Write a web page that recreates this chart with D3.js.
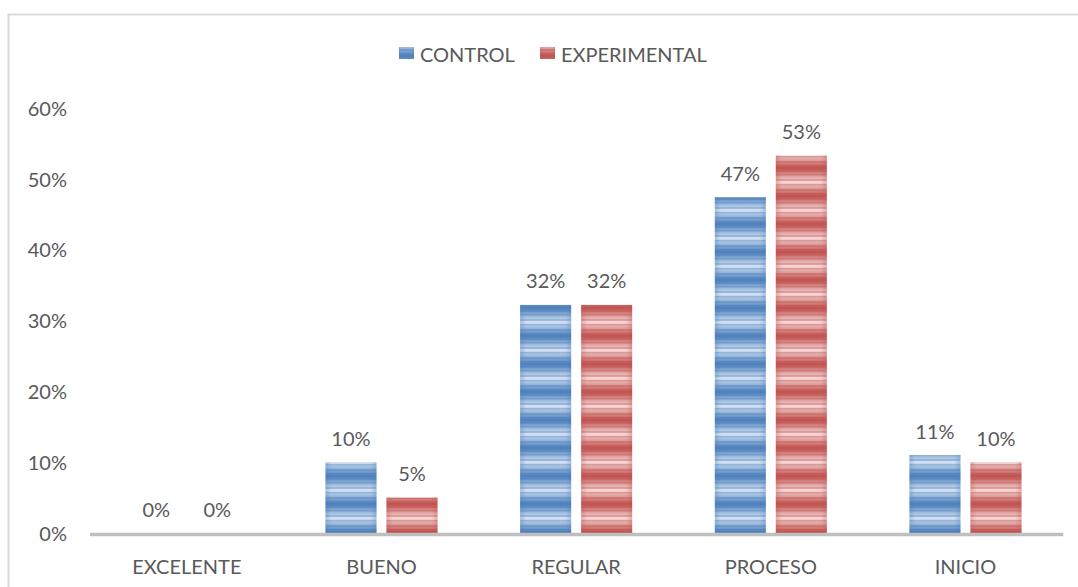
<!DOCTYPE html>
<html>
<head>
<meta charset="utf-8">
<script src="https://cdn.jsdelivr.net/npm/d3@7"></script>
<style>
  html, body { margin: 0; padding: 0; background: #fff; }
  svg { display: block; font-family: Lato, "Open Sans", sans-serif; }
</style>
</head>
<body>
<svg id="chart" width="1078" height="587"></svg>
<script>
const categories = ["EXCELENTE", "BUENO", "REGULAR", "PROCESO", "INICIO"];
const seriesNames = ["CONTROL", "EXPERIMENTAL"];
const controlValues = [0, 0.10, 0.322, 0.474, 0.11];
const experimentalValues = [0, 0.05, 0.322, 0.533, 0.10];
const valueLabels = [["0%", "10%", "32%", "47%", "11%"], ["0%", "5%", "32%", "53%", "10%"]];
const yTicks = [0, 0.1, 0.2, 0.3, 0.4, 0.5, 0.6];

const svg = d3.select("#chart");
const textColor = "#595959";

// frame
svg.append("rect").attr("x", 8.5).attr("y", 14.5).attr("width", 1100).attr("height", 600)
  .attr("fill", "none").attr("stroke", "#d9d9d9").attr("stroke-width", 2);

const defs = svg.append("defs");
const palettes = [
  { id: "blue", dark: "#4a7ebb", light: "#dce8f7" },
  { id: "red", dark: "#c0504d", light: "#f7e0df" }
];
palettes.forEach(p => {
  const g = defs.append("linearGradient").attr("id", "grad-" + p.id)
    .attr("x1", 0).attr("y1", 0).attr("x2", 0).attr("y2", 1);
  g.append("stop").attr("offset", "0%").attr("stop-color", p.dark);
  g.append("stop").attr("offset", "50%").attr("stop-color", p.light);
  g.append("stop").attr("offset", "100%").attr("stop-color", p.dark);
  const pat = defs.append("pattern").attr("id", "pat-" + p.id)
    .attr("patternUnits", "userSpaceOnUse").attr("width", 10).attr("height", 28);
  pat.append("rect").attr("width", 10).attr("height", 28).attr("fill", "url(#grad-" + p.id + ")");
  [2, 6, 11, 16, 21, 25].forEach((yy, i) => {
    pat.append("rect").attr("x", 0).attr("y", yy).attr("width", 10).attr("height", i % 2 ? 1.5 : 2)
      .attr("fill", p.dark).attr("opacity", 0.35);
  });
  const hg = defs.append("linearGradient").attr("id", "hgrad-" + p.id)
    .attr("x1", 0).attr("y1", 0).attr("x2", 1).attr("y2", 0);
  hg.append("stop").attr("offset", "0%").attr("stop-color", p.dark).attr("stop-opacity", 0.35);
  hg.append("stop").attr("offset", "12%").attr("stop-color", p.dark).attr("stop-opacity", 0.05);
  hg.append("stop").attr("offset", "88%").attr("stop-color", p.dark).attr("stop-opacity", 0.05);
  hg.append("stop").attr("offset", "100%").attr("stop-color", p.dark).attr("stop-opacity", 0.35);
});

const x0 = d3.scaleBand().domain(categories).range([89.5, 1062.8]).padding(0);
const groupWidth = 112;
const x1 = d3.scaleBand().domain(seriesNames).range([0, groupWidth]).paddingInner(0.164).paddingOuter(0);
const y = d3.scaleLinear().domain([0, 0.6]).range([533, 108]);

// y axis labels
const yAxis = d3.axisLeft(y).tickValues(yTicks).tickFormat(d3.format(".0%")).tickSize(0).tickPadding(0);
const yg = svg.append("g").attr("transform", "translate(67,0)").call(yAxis);
yg.select(".domain").remove();
yg.selectAll("text").attr("fill", textColor).style("font-size", "20px")
  .style("font-family", "Lato, 'Open Sans', sans-serif").attr("dy", "0.36em");

const data = [controlValues, experimentalValues];
const fills = ["url(#pat-blue)", "url(#pat-red)"];
const hfills = ["url(#hgrad-blue)", "url(#hgrad-red)"];

const groups = svg.append("g");
categories.forEach((c, ci) => {
  const gx = x0(c) + (x0.bandwidth() - groupWidth) / 2;
  seriesNames.forEach((s, si) => {
    const v = data[si][ci];
    const bx = gx + x1(s);
    const by = y(v);
    const bh = y(0) - y(v);
    if (bh > 0) {
      groups.append("rect").attr("x", bx).attr("y", by).attr("width", x1.bandwidth()).attr("height", bh)
        .attr("fill", fills[si]);
      groups.append("rect").attr("x", bx).attr("y", by).attr("width", x1.bandwidth()).attr("height", bh)
        .attr("fill", hfills[si]);
    }
    groups.append("text").attr("x", bx + x1.bandwidth() / 2).attr("y", by - 16.5)
      .attr("text-anchor", "middle").attr("fill", textColor).style("font-size", "20px")
      .text(valueLabels[si][ci]);
  });
});

// x axis
const xAxis = d3.axisBottom(x0).tickSize(0).tickPadding(0);
const xg = svg.append("g").attr("transform", "translate(0,534)").call(xAxis);
xg.select(".domain").attr("stroke", "#bfbfbf").attr("stroke-width", 3.5);
xg.selectAll("text").attr("fill", textColor).style("font-size", "20px")
  .style("font-family", "Lato, 'Open Sans', sans-serif").attr("dy", 0).attr("y", 39.5);

// legend
const legend = svg.append("g");
const legendItems = [
  { name: seriesNames[0], sx: 399, tx: 420 },
  { name: seriesNames[1], sx: 540, tx: 561 }
];
legendItems.forEach((d, i) => {
  legend.append("rect").attr("x", d.sx).attr("y", 47).attr("width", 15).attr("height", 12)
    .attr("fill", fills[i]);
  legend.append("rect").attr("x", d.sx).attr("y", 47).attr("width", 15).attr("height", 12)
    .attr("fill", hfills[i]);
  legend.append("text").attr("x", d.tx).attr("y", 62).attr("fill", textColor)
    .style("font-size", "20px").text(d.name);
});
</script>
</body>
</html>
